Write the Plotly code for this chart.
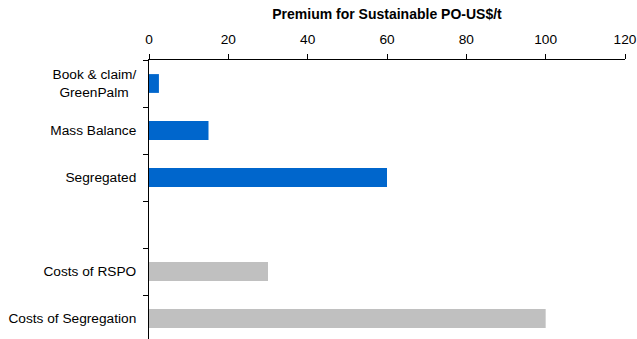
import plotly.graph_objects as go

categories = ["Book & claim/<br>GreenPalm\u00a0\u00a0", "Mass Balance", "Segregated", " ",
              "Costs of RSPO", "Costs of Segregation"]
premium_values = [2.5, 15, 60, None, None, None]
cost_values = [None, None, None, None, 30, 100]
x_ticks = [0, 20, 40, 60, 80, 100, 120]
x_title = "Premium for Sustainable PO-US$/t"

FONT = "Liberation Sans, Arial, sans-serif"

fig = go.Figure()
fig.add_trace(go.Bar(y=categories, x=premium_values, orientation="h",
                     marker=dict(color="#0066CC", line=dict(width=0)), width=0.4,
                     showlegend=False))
fig.add_trace(go.Bar(y=categories, x=cost_values, orientation="h",
                     marker=dict(color="#C0C0C0", line=dict(width=0)), width=0.4,
                     showlegend=False))

fig.update_layout(
    width=637, height=339,
    margin=dict(l=149, r=12, t=60, b=0, pad=0),
    plot_bgcolor="white", paper_bgcolor="white",
    barmode="overlay",
    font=dict(family=FONT, size=13.7, color="#000000"),
    xaxis=dict(side="top", range=[0, 120], tickvals=x_ticks, showgrid=False,
               zeroline=False, showline=True, linecolor="#000000", linewidth=1,
               ticks="outside", ticklen=5, tickcolor="#000000", automargin=False,
               ticklabelstandoff=5,
               title=dict(text="<b>" + x_title + "</b>", font=dict(size=14), standoff=8)),
    yaxis=dict(type="category", categoryorder="array", categoryarray=categories,
               range=[5.436, -0.5], showgrid=False, zeroline=False, showline=True,
               linecolor="#000000", linewidth=1, ticks="outside", ticklen=5,
               tickcolor="#000000", tickson="boundaries", automargin=False,
               ticklabelstandoff=9),
)

fig.write_html(
    "out.html",
    config={"displayModeBar": False},
    post_script="document.documentElement.style.margin='0';"
                "document.documentElement.style.overflow='hidden';"
                "document.body.style.margin='0';"
                "document.body.style.overflow='hidden';",
)
